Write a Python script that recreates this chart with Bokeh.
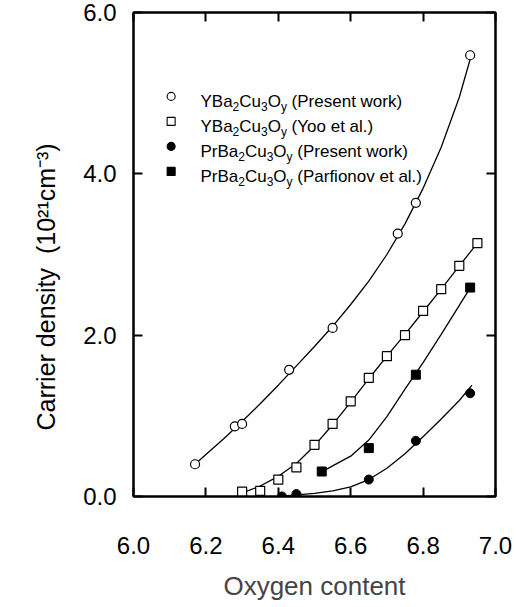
from bokeh.plotting import figure
from bokeh.models import Range1d, FixedTicker, LinearAxis, CustomJSTickFormatter, PrintfTickFormatter, Title
from bokeh.embed import file_html
from bokeh.resources import INLINE
from bokeh.core.properties import value

# ---------------- data ----------------
x_ticks = [6.0, 6.2, 6.4, 6.6, 6.8, 7.0]
y_ticks = [0.0, 2.0, 4.0, 6.0]

ybco_present_x = [6.17, 6.28, 6.30, 6.43, 6.55, 6.73, 6.78, 6.93]
ybco_present_y = [0.40, 0.87, 0.90, 1.57, 2.09, 3.26, 3.64, 5.47]

ybco_yoo_x = [6.30, 6.35, 6.40, 6.45, 6.50, 6.55, 6.60, 6.65, 6.70, 6.75, 6.80, 6.85, 6.90, 6.95]
ybco_yoo_y = [0.06, 0.07, 0.21, 0.36, 0.64, 0.90, 1.18, 1.47, 1.74, 2.00, 2.30, 2.57, 2.86, 3.14]

pbco_present_x = [6.41, 6.45, 6.65, 6.78, 6.93]
pbco_present_y = [0.00, 0.03, 0.21, 0.69, 1.28]

pbco_parf_x = [6.52, 6.65, 6.78, 6.93]
pbco_parf_y = [0.31, 0.60, 1.51, 2.59]

# fitted curves
fit_ybco_present_x = [6.17, 6.20, 6.25, 6.30, 6.35, 6.40, 6.45, 6.50, 6.55, 6.60, 6.65, 6.70, 6.75, 6.80, 6.85, 6.90, 6.93]
fit_ybco_present_y = [0.40, 0.52, 0.72, 0.93, 1.15, 1.38, 1.62, 1.86, 2.11, 2.38, 2.67, 3.00, 3.38, 3.82, 4.33, 4.95, 5.42]

fit_ybco_yoo_x = [6.31, 6.35, 6.40, 6.45, 6.50, 6.55, 6.60, 6.65, 6.70, 6.75, 6.80, 6.85, 6.90, 6.95]
fit_ybco_yoo_y = [0.06, 0.13, 0.25, 0.41, 0.63, 0.89, 1.17, 1.46, 1.74, 2.01, 2.29, 2.57, 2.86, 3.14]

fit_pbco_parf_x = [6.53, 6.55, 6.60, 6.65, 6.70, 6.75, 6.80, 6.85, 6.90, 6.925]
fit_pbco_parf_y = [0.33, 0.38, 0.50, 0.70, 0.99, 1.33, 1.66, 2.01, 2.37, 2.55]

fit_pbco_present_x = [6.40, 6.45, 6.50, 6.55, 6.60, 6.65, 6.70, 6.75, 6.80, 6.85, 6.90, 6.935]
fit_pbco_present_y = [0.00, 0.02, 0.04, 0.07, 0.12, 0.21, 0.35, 0.53, 0.74, 0.96, 1.19, 1.38]

legend_labels = [
    "YBa_2Cu_3O_y (Present work)",
    "YBa_2Cu_3O_y (Yoo et al.)",
    "PrBa_2Cu_3O_y (Present work)",
    "PrBa_2Cu_3O_y (Parfionov et al.)",
]
x_title = "Oxygen content"
y_title = "Carrier density\u00a0 (10\u00b2\u00b9cm\u207b\u00b3)"

# ---------------- styling ----------------
FONT = "Liberation Sans"
# Arial / Liberation Sans advance widths (per 1000 em)
W = {' ': 278, '(': 333, ')': 333, '.': 278, '2': 556, '3': 556, 'B': 667, 'C': 722,
     'O': 778, 'P': 667, 'Y': 667, 'a': 556, 'e': 556, 'f': 278, 'i': 222, 'k': 500,
     'l': 222, 'n': 556, 'o': 556, 'r': 333, 's': 500, 't': 278, 'u': 556, 'v': 500,
     'w': 722, 'y': 500}

p = figure(width=516, height=607, x_range=Range1d(6.0, 7.0), y_range=Range1d(0.0, 6.0),
           output_backend="svg", toolbar_location=None,
           min_border_left=133, min_border_right=21, min_border_top=12, min_border_bottom=111)
p.grid.visible = False
p.outline_line_color = "black"
p.outline_line_width = 2
p.background_fill_color = "white"
p.border_fill_color = "white"


def style_axis(ax, ticks, fmt, standoff, size):
    ax.ticker = FixedTicker(ticks=ticks)
    ax.formatter = fmt
    ax.major_tick_in = 9
    ax.major_tick_out = 0
    ax.major_tick_line_width = 2
    ax.major_tick_line_color = "black"
    ax.minor_tick_line_color = None
    ax.axis_line_width = 2
    ax.axis_line_color = "black"
    ax.major_label_standoff = standoff
    ax.major_label_text_font = FONT
    ax.major_label_text_font_size = size
    ax.major_label_text_color = "black"


xa = p.xaxis[0]
style_axis(xa, x_ticks, PrintfTickFormatter(format="%.1f"), 40, "24px")
xa.axis_label = x_title
xa.axis_label_text_font = FONT
xa.axis_label_text_font_size = "26px"
xa.axis_label_text_font_style = "normal"
xa.axis_label_standoff = 14

ya = p.yaxis[0]
style_axis(ya, y_ticks, PrintfTickFormatter(format="%.1f"), 17, "24px")

# y title in the left panel, shifted along the axis like the reference
ytitle = Title(text=y_title, align="left", offset=66, vertical_align="middle", standoff=40,
               text_font=FONT, text_font_size="25px", text_font_style="normal",
               text_color="black")
p.add_layout(ytitle, "left")

ra = LinearAxis()
style_axis(ra, y_ticks, CustomJSTickFormatter(code="return ''"), 0, "1px")
p.add_layout(ra, "right")
ta = LinearAxis()
style_axis(ta, x_ticks, CustomJSTickFormatter(code="return ''"), 0, "1px")
p.add_layout(ta, "above")

# curves
for fx, fy in [(fit_ybco_present_x, fit_ybco_present_y), (fit_ybco_yoo_x, fit_ybco_yoo_y),
               (fit_pbco_parf_x, fit_pbco_parf_y), (fit_pbco_present_x, fit_pbco_present_y)]:
    p.line(fx, fy, line_color="black", line_width=1.3)

# markers
p.scatter(ybco_present_x, ybco_present_y, marker="circle", size=9,
          fill_color="white", line_color="black", line_width=1.2)
p.scatter(ybco_yoo_x, ybco_yoo_y, marker="square", size=9,
          fill_color="white", line_color="black", line_width=1.2)
p.scatter(pbco_present_x, pbco_present_y, marker="circle", size=9,
          fill_color="black", line_color="black", line_width=1)
p.scatter(pbco_parf_x, pbco_parf_y, marker="square", size=9,
          fill_color="black", line_color="black", line_width=1)

# ---------------- legend (manual, with subscripts) ----------------
leg_marker_x = 6.104
leg_text_x = 6.185
leg_rows_y = [4.96, 4.65, 4.34, 4.03]
leg_markers = [("circle", "white"), ("square", "white"), ("circle", "black"), ("square", "black")]
MAIN, SUB, DROP = 17, 12, 5

for (mk, fc), ry, lab in zip(leg_markers, leg_rows_y, legend_labels):
    p.scatter([leg_marker_x], [ry], marker=mk, size=8, fill_color=fc,
              line_color="black", line_width=1.1)
    pieces = []
    i = 0
    buf = ""
    while i < len(lab):
        if lab[i] == "_":
            if buf:
                pieces.append((buf, False))
                buf = ""
            pieces.append((lab[i + 1], True))
            i += 2
        else:
            buf += lab[i]
            i += 1
    if buf:
        pieces.append((buf, False))
    off = 0.0
    for txt, sub in pieces:
        fs = SUB if sub else MAIN
        lead = len(txt) - len(txt.lstrip(" "))
        off += lead * W[' '] * fs / 1000.0
        txt = txt.lstrip(" ")
        p.text([leg_text_x], [ry], text=[txt], x_offset=off, y_offset=(5.5 + DROP) if sub else 5.5,
               text_font=value(FONT), text_font_size=f"{fs}px", text_color="black",
               text_align="left", text_baseline="alphabetic")
        off += sum(W.get(c, 556) for c in txt) * fs / 1000.0

open("out.html", "w").write(file_html(p, INLINE))
